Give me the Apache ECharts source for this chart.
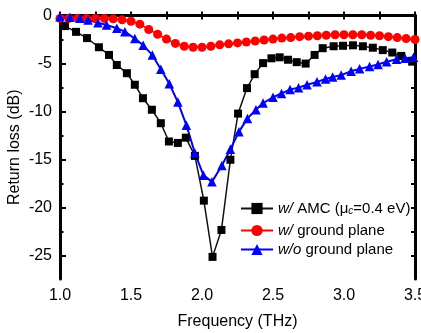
<!DOCTYPE html>
<html>
<head>
<meta charset="utf-8">
<script src="https://cdn.jsdelivr.net/npm/echarts@6/dist/echarts.min.js"></script>
<style>
  html, body { margin: 0; padding: 0; background: #fff; }
  #chart { width: 421px; height: 333px; }
</style>
</head>
<body>
<div id="chart"></div>
<script>
// Return loss of the antenna for three back configurations
const freqAMC = [1.035, 1.113, 1.19, 1.274, 1.345, 1.40, 1.471, 1.527, 1.584, 1.647, 1.71, 1.767, 1.83, 1.886, 1.95,
  2.013, 2.074, 2.137, 2.20, 2.254, 2.317, 2.371, 2.43, 2.489, 2.547, 2.606, 2.667, 2.73, 2.793, 2.85,
  2.927, 2.993, 3.063, 3.133, 3.203, 3.273, 3.34, 3.403, 3.48];
const lossAMC = [-1.1, -1.7, -2.35, -3.3, -4.1, -5.15, -6.0, -7.2, -8.6, -9.8, -11.2, -13.1, -13.25, -12.7, -14.6,
  -19.25, -25.1, -22.3, -15.0, -10.2, -7.55, -6.1, -4.95, -4.45, -4.35, -4.6, -4.85, -5.0, -4.1, -3.4,
  -3.2, -3.15, -3.1, -3.2, -3.35, -3.6, -3.85, -4.2, -4.8];

const freqGround = [1.0, 1.0625, 1.125, 1.1875, 1.25, 1.3125, 1.375, 1.4375, 1.5, 1.5625, 1.625, 1.6875, 1.75, 1.8125,
  1.875, 1.9375, 2.0, 2.0625, 2.125, 2.1875, 2.25, 2.3125, 2.375, 2.4375, 2.5, 2.5625, 2.625, 2.6875, 2.75,
  2.8125, 2.875, 2.9375, 3.0, 3.0625, 3.125, 3.1875, 3.25, 3.3125, 3.375, 3.4375, 3.5];
const lossGround = [-0.3, -0.3, -0.3, -0.3, -0.3, -0.3, -0.35, -0.45, -0.6, -0.9, -1.45, -1.95, -2.45, -2.9,
  -3.2, -3.3, -3.3, -3.2, -3.05, -2.95, -2.85, -2.75, -2.65, -2.55, -2.45, -2.35, -2.3, -2.2, -2.15,
  -2.1, -2.05, -2.0, -2.0, -2.0, -2.0, -2.05, -2.1, -2.2, -2.3, -2.4, -2.5];

const freqNoGround = [1.0, 1.07, 1.14, 1.197, 1.267, 1.328, 1.40, 1.457, 1.527, 1.586, 1.65, 1.71, 1.77, 1.83, 1.89,
  1.95, 2.01, 2.07, 2.14, 2.20, 2.26, 2.32, 2.38, 2.43, 2.50, 2.56, 2.62, 2.68, 2.74, 2.81, 2.87, 2.92,
  2.98, 3.05, 3.11, 3.18, 3.24, 3.30, 3.37, 3.43, 3.49];
const lossNoGround = [-0.12, -0.19, -0.29, -0.47, -0.75, -0.99, -1.33, -1.68, -2.4, -3.1, -4.1, -5.6, -7.1, -9.0, -11.4,
  -14.3, -16.6, -17.3, -15.6, -13.9, -12.1, -10.7, -9.8, -9.1, -8.5, -8.1, -7.7, -7.5, -7.2, -6.9, -6.6, -6.4,
  -6.2, -5.8, -5.55, -5.3, -5.1, -4.8, -4.55, -4.45, -4.35];

// Axis ticks and labels
const xLabelValues = [1.0, 1.5, 2.0, 2.5, 3.0, 3.5];
const xTickValues = [1.0, 1.25, 1.5, 1.75, 2.0, 2.25, 2.5, 2.75, 3.0, 3.25, 3.5];
const yLabelValues = [-25, -20, -15, -10, -5, 0];
const yMinorTickValues = [-22.5, -17.5, -12.5, -7.5, -2.5];
const yAllTickValues = [-25, -22.5, -20, -17.5, -15, -12.5, -10, -7.5, -5, -2.5, 0];

const seriesNames = ['amc', 'ground', 'noground'];

const pairs = (xs, ys) => xs.map((x, i) => [x, ys[i]]);

const FONT = '"Liberation Sans", Arial, sans-serif';
const frame = { show: true, lineStyle: { color: '#000', width: 3 } };
const X_MIN = 1.0, X_MAX = 3.5, Y_MIN = -27.4, Y_MAX = 0;

const chart = echarts.init(document.getElementById('chart'), null, { renderer: 'canvas' });

const legendText = {
  fontFamily: FONT, fontSize: 15, color: '#000',
  rich: {
    it: { fontFamily: FONT, fontSize: 15, fontStyle: 'italic', color: '#000' },
    n: { fontFamily: FONT, fontSize: 15, color: '#000' },
    sub: { fontFamily: FONT, fontSize: 10, fontStyle: 'italic', color: '#000', verticalAlign: 'bottom', padding: [6, 0, 0, 0] }
  }
};
const legendLabels = {
  amc: '{it|w/}{n| AMC (μ}{sub|c}{n|=0.4 eV)}',
  ground: '{it|w/}{n| ground plane}',
  noground: '{it|w/o}{n| ground plane}'
};
const legendTops = [201, 223, 242];

chart.setOption({
  animation: false,
  backgroundColor: '#fff',
  grid: { left: 60, right: 6, top: 15.5, bottom: 54, outerBoundsMode: 'none', containLabel: false },
  legend: seriesNames.map((name, i) => ({
    data: [name],
    left: 240,
    top: legendTops[i],
    itemWidth: 32,
    itemHeight: 14,
    padding: 0,
    textStyle: legendText,
    formatter: (n) => legendLabels[n]
  })),
  xAxis: [
    {
      type: 'value', position: 'bottom', min: X_MIN, max: X_MAX,
      axisLine: frame,
      axisTick: { show: true, inside: true, length: 4, lineStyle: { color: '#000', width: 2 }, customValues: xTickValues },
      axisLabel: {
        show: true, margin: 9, fontFamily: FONT, fontSize: 16, color: '#000',
        customValues: xLabelValues, formatter: (v) => v.toFixed(1)
      },
      splitLine: { show: false },
      name: 'Frequency (THz)', nameLocation: 'middle', nameGap: 35, nameMoveOverlap: false,
      nameTextStyle: { fontFamily: FONT, fontSize: 16, color: '#000' }
    },
    {
      type: 'value', position: 'top', min: X_MIN, max: X_MAX,
      axisLine: frame,
      axisTick: { show: true, inside: true, length: 4, lineStyle: { color: '#000', width: 2 }, customValues: xTickValues },
      axisLabel: { show: false },
      splitLine: { show: false }
    }
  ],
  yAxis: [
    {
      type: 'value', position: 'left', min: Y_MIN, max: Y_MAX,
      axisLine: frame,
      axisTick: { show: true, inside: true, length: 6, lineStyle: { color: '#000', width: 2 }, customValues: yLabelValues },
      axisLabel: {
        show: true, margin: 8, fontFamily: FONT, fontSize: 16, color: '#000',
        customValues: yLabelValues, formatter: (v) => String(v)
      },
      splitLine: { show: false },
      name: 'Return loss (dB)', nameLocation: 'middle', nameGap: 37, nameRotate: 90, nameMoveOverlap: false,
      nameTextStyle: { fontFamily: FONT, fontSize: 16, color: '#000' }
    },
    {
      type: 'value', position: 'right', min: Y_MIN, max: Y_MAX,
      axisLine: frame,
      axisTick: { show: true, inside: true, length: 4, lineStyle: { color: '#000', width: 2 }, customValues: yAllTickValues },
      axisLabel: { show: false },
      splitLine: { show: false }
    },
    {
      type: 'value', position: 'left', min: Y_MIN, max: Y_MAX,
      axisLine: { show: false },
      axisTick: { show: true, inside: true, length: 3.5, lineStyle: { color: '#000', width: 2 }, customValues: yMinorTickValues },
      axisLabel: { show: false },
      splitLine: { show: false }
    }
  ],
  series: [
    {
      name: 'amc', type: 'line', xAxisIndex: 0, yAxisIndex: 0,
      data: pairs(freqAMC, lossAMC),
      symbol: 'rect', symbolSize: 8,
      itemStyle: { color: '#000' },
      lineStyle: { color: '#111', width: 1.5 }
    },
    {
      name: 'ground', type: 'line', xAxisIndex: 0, yAxisIndex: 0,
      data: pairs(freqGround, lossGround),
      symbol: 'circle', symbolSize: 9,
      itemStyle: { color: '#ff0000' },
      lineStyle: { color: '#ff0000', width: 1.5 }
    },
    {
      name: 'noground', type: 'line', xAxisIndex: 0, yAxisIndex: 0,
      data: pairs(freqNoGround, lossNoGround),
      symbol: 'triangle', symbolSize: 9.5,
      itemStyle: { color: '#0000ff' },
      lineStyle: { color: '#0000ff', width: 2 }
    }
  ]
});
</script>
</body>
</html>
